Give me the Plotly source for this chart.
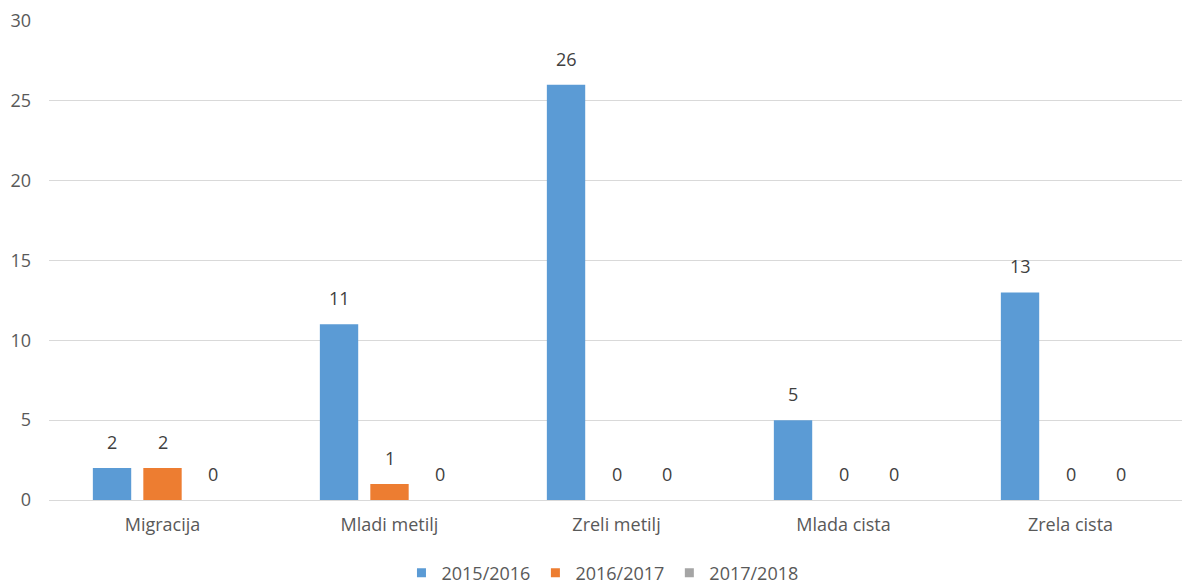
import plotly.graph_objects as go

categories = ["Migracija", "Mladi metilj", "Zreli metilj", "Mlada cista", "Zrela cista"]
series_names = ["2015/2016", "2016/2017", "2017/2018"]
v_2015 = [2, 11, 26, 5, 13]
v_2016 = [2, 1, 0, 0, 0]
v_2017 = [0, 0, 0, 0, 0]
y_ticks = [0, 5, 10, 15, 20, 25, 30]

colors = ["#5B9BD5", "#ED7D31", "#A5A5A5"]
FONT = "Open Sans, Noto Sans, sans-serif"
TXT = "#595959"
BARGAP = 0.333
GROUPGAP = 0.24

fig = go.Figure()
series = [v_2015, v_2016, v_2017]
n = len(series)
slot = (1 - BARGAP) / n
for k, (name, vals, col) in enumerate(zip(series_names, series, colors)):
    fig.add_trace(go.Bar(
        x=categories, y=vals, name=name, showlegend=False,
        marker=dict(color=col, line=dict(width=0)),
    ))
    # legend entry with small square marker
    fig.add_trace(go.Scatter(
        x=[None], y=[None], name=name, mode="markers",
        marker=dict(symbol="square", size=9, color=col),
    ))
    for i, v in enumerate(vals):
        fig.add_annotation(
            x=i + (k - (n - 1) / 2) * slot, y=v, xref="x", yref="y",
            text=str(v), showarrow=False, yanchor="bottom", yshift=12,
            font=dict(size=18, color="#404040", family=FONT),
        )

fig.update_layout(
    width=1182, height=586,
    margin=dict(l=49, r=0, t=21, b=86, autoexpand=False),
    paper_bgcolor="white", plot_bgcolor="white",
    barmode="group", bargap=BARGAP, bargroupgap=GROUPGAP,
    font=dict(family=FONT, size=18, color=TXT),
    showlegend=True,
    legend=dict(orientation="h", x=0.4885, xanchor="center", y=-0.1524, yanchor="middle",
                font=dict(size=18, color=TXT), itemwidth=30,
                traceorder="normal", borderwidth=0),
)
fig.update_yaxes(range=[0, 30], tickvals=y_ticks, showgrid=True, gridcolor="#D9D9D9",
                 gridwidth=1, zeroline=True, zerolinecolor="#D9D9D9", zerolinewidth=1,
                 showline=False, ticks="", ticklabelstandoff=17, automargin=False,
                 tickfont=dict(size=18, color=TXT))
fig.update_xaxes(range=[-0.5, -0.5 + (1182 - 49) / 227.0], showgrid=False, showline=False,
                 ticks="", ticklabelstandoff=12, automargin=False,
                 tickfont=dict(size=18, color=TXT))

fig.write_html(
    "out.html",
    config={"displayModeBar": False},
    post_script="document.body.style.margin='0px';document.body.style.overflow='hidden';",
)
